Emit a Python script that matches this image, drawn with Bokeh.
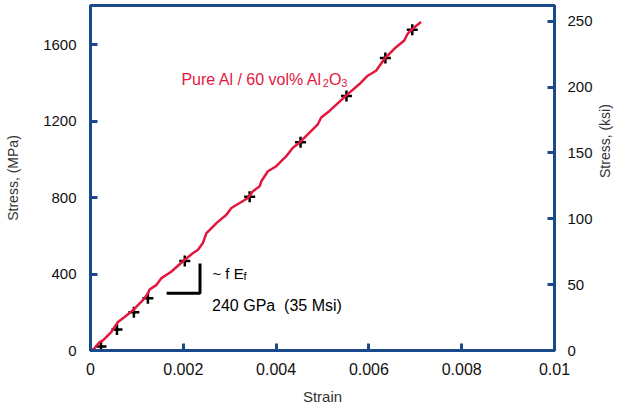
import math
from bokeh.plotting import figure
from bokeh.models import (Range1d, LinearAxis, FixedTicker, CustomJSTickFormatter,
                          Label)
from bokeh.embed import file_html
from bokeh.resources import INLINE

# ---- data ----
strain = [0.0, 0.000075, 0.000198, 0.000269, 0.000447, 0.000591, 0.000735, 0.000914,
          0.001129, 0.001237, 0.001273, 0.001415, 0.001523, 0.001738, 0.002026,
          0.002204, 0.002312, 0.002419, 0.002499, 0.002641, 0.002714, 0.002929,
          0.003037, 0.003215, 0.003394, 0.003501, 0.003645, 0.003682, 0.003824,
          0.004004, 0.004219, 0.004361, 0.004505, 0.004720, 0.004899, 0.004972,
          0.005151, 0.005544, 0.005796, 0.005974, 0.006155, 0.006333, 0.006585,
          0.006763, 0.006834, 0.006942, 0.007123]
stress = [0, 8.9, 43.7, 52.6, 96.3, 148.9, 175.3, 210.5,
          263.2, 298.4, 319.5, 342.1, 377.4, 412.1, 473.7,
          508.9, 526.3, 561.6, 614.2, 648.9, 666.8, 710.5,
          745.8, 772.1, 798.4, 833.2, 859.5, 885.8, 938.4,
          964.7, 1017.4, 1061.6, 1087.9, 1140.5, 1184.2, 1219.5,
          1254.2, 1342.1, 1394.7, 1438.4, 1464.7, 1526.3, 1587.9,
          1622.6, 1657.9, 1684.2, 1719.5]

mark_strain = [0.000226, 0.00057, 0.000935, 0.001237, 0.002032, 0.00343,
               0.004527, 0.005516, 0.006355, 0.006935]
mark_stress = [21, 110.5, 200, 273.7, 468.4, 805.3, 1089.5, 1331.6, 1531.6, 1678.9]

x_ticks = [0, 0.002, 0.004, 0.006, 0.008, 0.01]
x_tick_labels = ["0", "0.002", "0.004", "0.006", "0.008", "0.01"]
y_ticks = [0, 400, 800, 1200, 1600]
y_tick_labels = ["0", "400", "800", "1200", "1600"]
ksi_ticks = [0, 50, 100, 150, 200, 250]
ksi_tick_labels = ["0", "50", "100", "150", "200", "250"]

slope_x = [0.00164, 0.00236, 0.00236]
slope_y = [300, 300, 455]

MPA_PER_KSI = 6.89476
Y_MAX = 1806
X_MAX = 0.01

BLUE = "#1a4a8c"
RED = "#e3173e"
FONT = "Liberation Sans"

p = figure(width=623, height=409, x_range=Range1d(0, X_MAX), y_range=Range1d(0, Y_MAX),
           output_backend="svg", toolbar_location=None,
           min_border_left=90, min_border_right=68, min_border_top=5, min_border_bottom=59,
           background_fill_color="white", border_fill_color="white")
p.grid.visible = False
p.outline_line_color = BLUE
p.outline_line_width = 3
p.extra_y_ranges = {"ksi": Range1d(0, Y_MAX / MPA_PER_KSI)}


def fmt(tv, tl):
    return CustomJSTickFormatter(args=dict(tvals=tv, tlabels=tl), code="""
        for (let i = 0; i < tvals.length; i++) {
            if (Math.abs(tvals[i] - tick) < 1e-9 * Math.max(1, Math.abs(tick))) return tlabels[i];
        }
        return "";
    """)


def style(ax, tv, tl, size):
    ax.ticker = FixedTicker(ticks=tv)
    ax.formatter = fmt(tv, tl)
    ax.axis_line_color = BLUE
    ax.axis_line_width = 3
    ax.major_tick_line_color = BLUE
    ax.major_tick_line_width = 3
    ax.major_tick_in = 7
    ax.major_tick_out = 0
    ax.minor_tick_line_color = None
    ax.major_label_text_font = FONT
    ax.major_label_text_font_size = size
    ax.major_label_text_color = "#111111"
    ax.axis_label_text_font = FONT
    ax.axis_label_text_font_style = "normal"
    ax.axis_label_text_color = "#333333"


xa = p.xaxis[0]
style(xa, x_ticks, x_tick_labels, "16px")
xa.axis_label = "Strain"
xa.axis_label_text_font_size = "15px"
xa.major_label_standoff = 12
xa.axis_label_standoff = 10

ya = p.yaxis[0]
style(ya, y_ticks, y_tick_labels, "15px")
ya.axis_label = "Stress, (MPa)"
ya.axis_label_text_font_size = "14px"
ya.major_label_standoff = 14
ya.axis_label_standoff = 19

ra = LinearAxis(y_range_name="ksi")
style(ra, ksi_ticks, ksi_tick_labels, "15px")
ra.axis_label = "Stress, (ksi)"
ra.axis_label_text_font_size = "14px"
ra.major_label_standoff = 13
ra.axis_label_standoff = 9
if hasattr(ra, "axis_label_orientation"):
    ra.axis_label_orientation = math.pi / 2
p.add_layout(ra, "right")

# data
p.scatter(mark_strain, mark_stress, marker="cross", size=11, line_color="black",
          line_width=2.5)
p.line(strain, stress, line_color=RED, line_width=2.5)

# slope triangle
p.line(slope_x, slope_y, line_color="black", line_width=3)

# annotations
def lab(x, y, text, size, color="black", xo=0, yo=0):
    p.add_layout(Label(x=x, y=y, text=text, text_font=FONT, text_font_size=size,
                       text_color=color, x_offset=xo, y_offset=yo,
                       text_baseline="alphabetic", text_align="left"))

tx, ty = 0.00196, 1417
lab(tx, ty, "Pure Al / 60 vol% Al", "16px", RED)
lab(tx, ty, "2", "11px", RED, xo=141.4, yo=-3)
lab(tx, ty, "O", "16px", RED, xo=147.5)
lab(tx, ty, "3", "11px", RED, xo=159.9, yo=-3)

lab(0.002628, 405, "~ f E", "15px")
lab(0.002628, 405, "f", "11px", xo=31, yo=-3)
lab(0.00262, 236, "240 GPa \u00a0(35 Msi)", "16px")

open("out.html", "w").write(file_html(p, INLINE))
